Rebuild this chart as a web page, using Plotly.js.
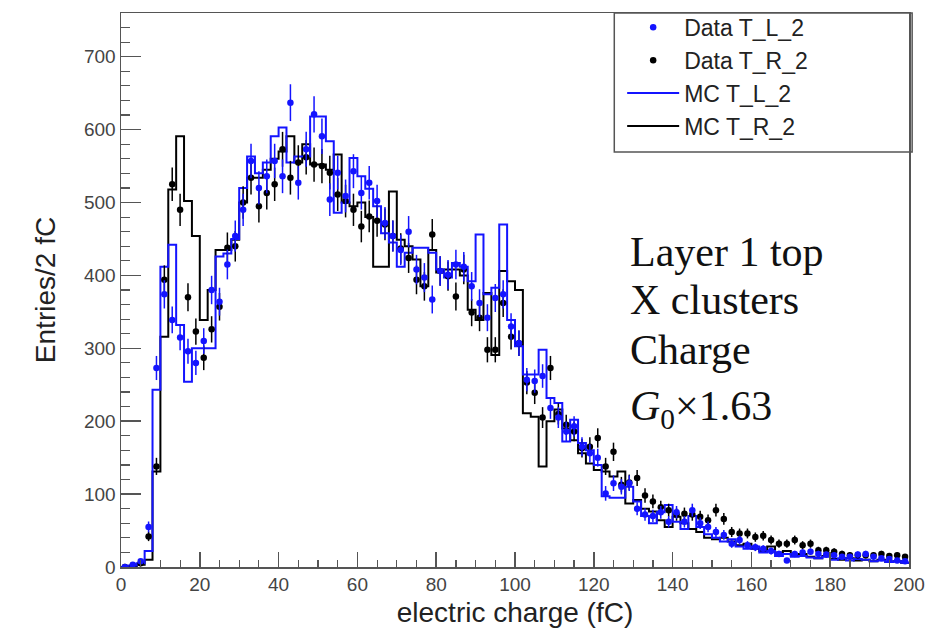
<!DOCTYPE html>
<html>
<head>
<meta charset="utf-8">
<script src="https://cdn.plot.ly/plotly-3.0.1.min.js"></script>
<style>html,body{margin:0;padding:0;background:#fff;}#chart{width:938px;height:635px;}</style>
</head>
<body>
<div id="chart"></div>
<script>
// Bin centers (fC), 2 fC wide bins from 0 to 200
const binCenters = [1,3,5,7,9,11,13,15,17,19,21,23,25,27,29,31,33,35,37,39,
  41,43,45,47,49,51,53,55,57,59,61,63,65,67,69,71,73,75,77,79,
  81,83,85,87,89,91,93,95,97,99,101,103,105,107,109,111,113,115,117,119,
  121,123,125,127,129,131,133,135,137,139,141,143,145,147,149,151,153,155,157,159,
  161,163,165,167,169,171,173,175,177,179,181,183,185,187,189,191,193,195,197,199];
const binWidth = 2;

// Data T_L_2 (blue points)
const dataTL2 = [0,3,8,55,273,374,339,315,296,280,310,380,364,415,454,490,557,520,536,557,
  536,637,527,573,621,591,504,541,509,543,513,527,502,472,454,435,460,408,397,367,
  406,401,415,412,385,362,342,369,374,330,307,257,255,262,218,205,186,193,165,156,
  150,101,115,110,115,80,72,70,75,62,75,62,78,60,55,48,44,32,37,30,
  27,25,22,18,9,18,20,21,18,17,16,14,14,17,18,14,12,11,9,8];

// Data T_R_2 (black points)
const dataTR2 = [0,2,5,42,138,394,525,490,370,323,287,326,357,438,440,500,534,495,513,525,
  573,534,555,562,552,550,541,511,502,490,467,481,475,470,454,437,424,394,385,456,
  406,399,371,408,349,342,298,298,362,316,307,253,239,205,273,210,195,186,163,165,
  177,138,158,113,116,122,98,90,82,78,72,73,72,69,64,78,66,48,46,46,
  41,43,37,32,32,37,30,32,23,23,21,18,16,16,16,16,18,15,16,14];

// MC T_L_2 (blue histogram)
const mcTL2 = [0,2,5,22,243,412,442,332,254,300,300,300,426,430,450,520,563,540,555,591,
  603,555,563,563,618,618,584,486,500,561,536,519,495,458,445,412,431,438,438,431,
  408,397,417,412,392,456,374,383,470,339,303,264,264,298,232,225,172,202,170,160,
  140,97,95,95,110,90,70,60,75,85,62,52,70,55,45,40,35,38,28,25,
  28,20,22,15,18,14,15,13,12,14,10,12,9,11,10,8,9,7,8,6];

// MC T_R_2 (black histogram)
const mcTR2 = [0,1,3,10,131,316,518,591,502,454,339,380,435,435,449,500,534,534,545,560,
  570,591,555,580,552,552,545,566,500,495,500,480,412,412,515,449,440,422,385,435,
  404,408,408,400,353,339,376,291,406,392,380,211,206,138,200,216,190,174,156,142,
  133,131,124,131,87,92,80,76,64,55,69,60,52,48,40,38,40,35,30,32,
  25,22,28,20,22,16,18,14,12,15,11,10,12,9,10,8,10,7,8,6];

const xTicks = [0,20,40,60,80,100,120,140,160,180,200];
const yTicks = [0,100,200,300,400,500,600,700];

const BLUE = 'rgb(20,20,255)';
const BLACK = '#000000';

function stepTrace(vals, name, color, rank) {
  const xs = binCenters.map(c => c - binWidth / 2);
  xs.push(binCenters[binCenters.length - 1] + binWidth / 2);
  const ys = vals.slice();
  ys.push(vals[vals.length - 1]);
  return {
    type: 'scatter', mode: 'lines', name: name, x: xs, y: ys,
    line: {shape: 'hv', color: color, width: 2}, legendrank: rank, hoverinfo: 'skip'
  };
}
function pointTrace(vals, name, color, rank) {
  return {
    type: 'scatter', mode: 'markers', name: name, x: binCenters, y: vals,
    marker: {color: color, size: 6.5},
    error_y: {type: 'data', array: vals.map(v => Math.sqrt(v)), color: color, thickness: 1.5, width: 0},
    legendrank: rank
  };
}

const traces = [
  stepTrace(mcTR2, 'MC T_R_2', BLACK, 4),
  stepTrace(mcTL2, 'MC T_L_2', BLUE, 3),
  pointTrace(dataTR2, 'Data T_R_2', BLACK, 2),
  pointTrace(dataTL2, 'Data T_L_2', BLUE, 1)
];

const serif = {family: 'Liberation Serif, Times New Roman, serif', size: 42, color: '#111'};
function note(text, y) {
  return {text: text, xref: 'paper', yref: 'paper', x: 0.643, y: y,
    xanchor: 'left', yanchor: 'middle', showarrow: false, font: serif};
}

const layout = {
  width: 938, height: 635,
  margin: {l: 121, r: 29, t: 13, b: 68, autoexpand: false},
  paper_bgcolor: '#fff', plot_bgcolor: '#fff',
  font: {family: 'Liberation Sans, Arial, sans-serif', color: '#333'},
  showlegend: true,
  legend: {
    x: 0.636, y: 1.013, xanchor: 'left', yanchor: 'top',
    bgcolor: 'rgba(0,0,0,0)', borderwidth: 0,
    font: {size: 23, color: '#222'}, itemwidth: 52, traceorder: 'normal'
  },
  shapes: [{type: 'rect', xref: 'paper', yref: 'paper', x0: 0.626, x1: 1.004, y0: 0.749, y1: 1.0,
    line: {color: '#555', width: 1.5}, fillcolor: 'rgba(255,255,255,1)', layer: 'below'}],
  xaxis: {
    range: [0, 200], tickvals: xTicks, ticktext: xTicks.map(String),
    ticks: 'inside', ticklen: 15, tickwidth: 1.5, tickcolor: '#555',
    minor: {dtick: 5, ticks: 'inside', ticklen: 7, tickwidth: 1.2, tickcolor: '#555'},
    showline: true, linecolor: '#555', linewidth: 1.5, mirror: true,
    showgrid: false, zeroline: false,
    tickfont: {size: 19, color: '#444'},
    title: {text: 'electric charge (fC)', font: {size: 28, color: '#222'}, standoff: 8}
  },
  yaxis: {
    range: [0, 760], tickvals: yTicks, ticktext: yTicks.map(String),
    ticks: 'inside', ticklen: 20, tickwidth: 1.5, tickcolor: '#555',
    minor: {dtick: 20, ticks: 'inside', ticklen: 9, tickwidth: 1.2, tickcolor: '#555'},
    showline: true, linecolor: '#555', linewidth: 1.5, mirror: true,
    showgrid: false, zeroline: false,
    tickfont: {size: 19, color: '#444'},
    title: {text: 'Entries/2 fC', font: {size: 28, color: '#222'}, standoff: 20}
  },
  annotations: [
    note('Layer 1 top', 0.569),
    note('X clusters', 0.482),
    note('Charge', 0.392),
    note('<i>G</i><sub>0</sub>×1.63', 0.285)
  ]
};

Plotly.newPlot('chart', traces, layout, {displayModeBar: false, staticPlot: true});
</script>
</body>
</html>
